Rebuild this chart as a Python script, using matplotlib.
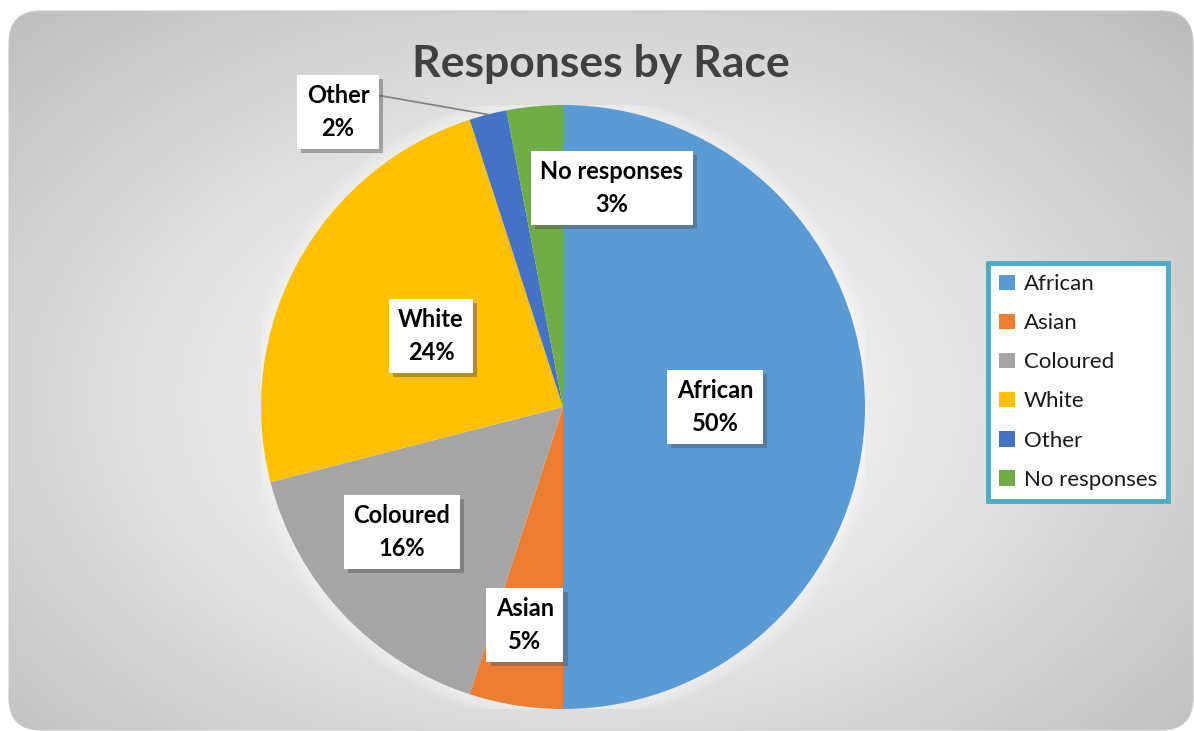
import matplotlib.pyplot as plt
import numpy as np
from matplotlib.patches import FancyBboxPatch, Patch, Circle
from matplotlib import patheffects

plt.rcParams["font.family"] = ["Lato", "DejaVu Sans"]

categories = ["African", "Asian", "Coloured", "White", "Other", "No responses"]
shares = [50, 5, 16, 24, 2, 3]
colors = ["#5b9bd5", "#ed7d31", "#a5a5a5", "#ffc000", "#4472c4", "#70ad47"]

# label centres in pie units (radius = 1)
label_xy = [(0.503, 0.0), (-0.126, -0.722), (-0.533, -0.414),
            (-0.437, 0.235), (-0.745, 0.977), (0.162, 0.725)]

W, H = 1194, 731
fig = plt.figure(figsize=(W / 100, H / 100), dpi=100)
fig.patch.set_facecolor("white")

# rounded card with radial grey gradient
bg = fig.add_axes([0, 0, 1, 1])
bg.set_xlim(0, W)
bg.set_ylim(H, 0)
bg.axis("off")
yy, xx = np.mgrid[0:H, 0:W]
cx, cy = 580, 400
d = np.sqrt(((xx - cx) / 600.0) ** 2 + ((yy - cy) / 400.0) ** 2) / np.sqrt(2)
val = np.clip(1.0 - 0.27 * d ** 1.2, 0, 1)
img = bg.imshow(np.dstack([val, val, val]), extent=(0, W, H, 0), zorder=0)
card = FancyBboxPatch((9, 11), W - 10, H - 12,
                      boxstyle="round,pad=0,rounding_size=32",
                      facecolor="none", edgecolor="#c8c8c8", linewidth=0.8,
                      zorder=1)
bg.add_patch(card)
img.set_clip_path(card)

fig.text(0.503, 0.913, "Responses by Race", ha="center", va="center",
         fontsize=32, fontweight="bold", color="#404040")

R_PX = 302
ax = fig.add_axes([(563 - R_PX) / W, (H - 407 - R_PX) / H,
                   2 * R_PX / W, 2 * R_PX / H])

# soft glow around the pie
for k in range(8):
    ax.add_patch(Circle((0, 0), 1 + 0.006 * (k + 1), facecolor="white",
                        edgecolor="none", alpha=0.08, zorder=1))

wedges, _ = ax.pie(shares, colors=colors, startangle=90, counterclock=False,
                   radius=1, wedgeprops={"linewidth": 0, "zorder": 2})
ax.set_xlim(-1, 1)
ax.set_ylim(-1, 1)
ax.set_aspect("equal")
ax.axis("off")

shadow = [patheffects.withSimplePatchShadow(offset=(3, -3),
                                            shadow_rgbFace="#555555",
                                            alpha=0.45)]
for i, (name, share) in enumerate(zip(categories, shares)):
    x, y = label_xy[i]
    txt = ax.text(x, y, f"{name}\n{share}%", ha="center", va="center",
                  fontsize=17, fontweight="bold", color="black",
                  linespacing=1.5, zorder=5, clip_on=False,
                  bbox=dict(boxstyle="square,pad=0.4", facecolor="white",
                            edgecolor="none"))
    txt.get_bbox_patch().set_path_effects(shadow)

# leader line for the small "Other" slice
w = wedges[4]
mid = np.deg2rad((w.theta1 + w.theta2) / 2)
ax.plot([-0.64, -0.60, np.cos(mid)], [1.03, 1.03, np.sin(mid)],
        color="#7f7f7f", linewidth=1.2, zorder=4, clip_on=False)

handles = [Patch(facecolor=c, edgecolor="none", label=n)
           for n, c in zip(categories, colors)]
leg = fig.legend(handles=handles, loc="upper left",
                 bbox_to_anchor=(988 / W, 1 - 263 / H), borderaxespad=0,
                 fontsize=16, handlelength=0.7, handleheight=0.7,
                 handletextpad=0.4, labelspacing=0.86, borderpad=0.5,
                 fancybox=False, framealpha=1, labelcolor="#1a1a1a")
leg.get_frame().set_edgecolor("#4bacc6")
leg.get_frame().set_linewidth(3.5)

fig.savefig("out.png", dpi=100)
